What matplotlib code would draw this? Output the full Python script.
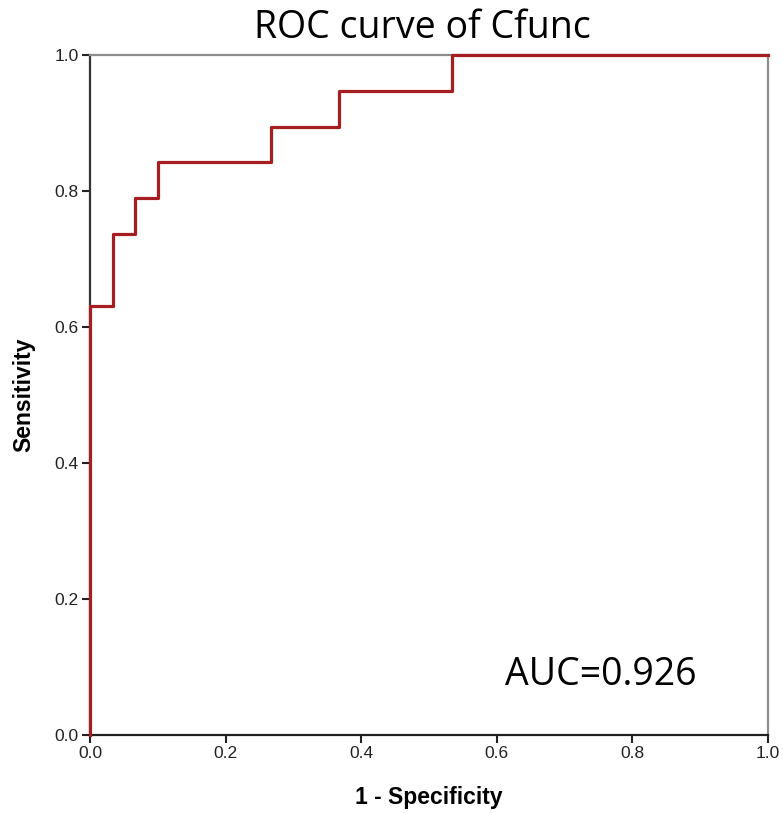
import matplotlib
matplotlib.use('Agg')
import matplotlib.pyplot as plt

# ROC staircase points (19 positives, 30 negatives)
fpr = [0.0, 0.0, 0.0333, 0.0333, 0.0667, 0.0667, 0.1, 0.1, 0.2667, 0.2667,
       0.3667, 0.3667, 0.5333, 0.5333, 1.0]
tpr = [0.0, 0.6316, 0.6316, 0.7368, 0.7368, 0.7895, 0.7895, 0.8421, 0.8421,
       0.8947, 0.8947, 0.9474, 0.9474, 1.0, 1.0]
ticks = [0.0, 0.2, 0.4, 0.6, 0.8, 1.0]
auc_text = 'AUC=0.926'

fig = plt.figure(figsize=(7.83, 8.13), dpi=100)
ax = fig.add_axes([0.1149, 0.0959, 0.8659, 0.8364])

ax.plot(fpr, tpr, color='#A61E22', linewidth=2.3, clip_on=False, zorder=3)

ax.set_xlim(0, 1)
ax.set_ylim(0, 1)
ax.set_xticks(ticks)
ax.set_yticks(ticks)
ax.set_xticklabels(['%.1f' % t for t in ticks])
ax.set_yticklabels(['%.1f' % t for t in ticks])
ax.tick_params(direction='out', length=6, width=1.5, color='#222222',
               labelsize=12.5, labelcolor='#222222', pad=2)
for lbl in ax.get_xticklabels() + ax.get_yticklabels():
    lbl.set_family('Liberation Sans')

ax.spines['left'].set_color('#333333')
ax.spines['bottom'].set_color('#222222')
ax.spines['top'].set_color('#8c8c8c')
ax.spines['right'].set_color('#8c8c8c')
for s in ax.spines.values():
    s.set_linewidth(1.6)

ax.set_xlabel('1 - Specificity', fontsize=16.5, fontweight='bold',
              family='Liberation Sans', labelpad=18)
ax.set_ylabel('Sensitivity', fontsize=16.5, fontweight='bold',
              family='Liberation Sans', labelpad=14)

fig.text(0.539, 0.966, 'ROC curve of Cfunc', ha='center', va='center',
         fontsize=27, family='Open Sans')
ax.text(0.612, 0.074, auc_text, fontsize=27, family='Open Sans',
        transform=ax.transData)

fig.savefig('out.png', dpi=100)
